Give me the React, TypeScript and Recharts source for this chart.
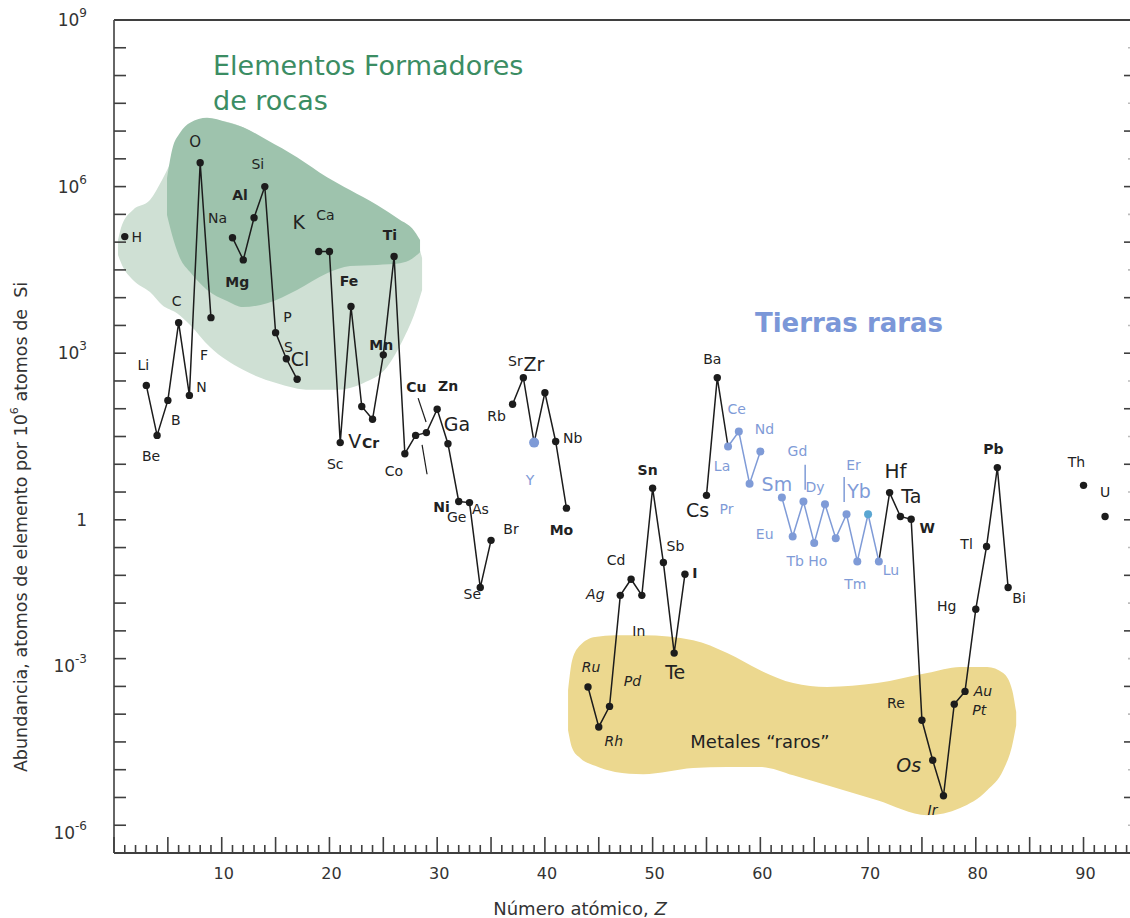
import React from 'react';
import { ComposedChart, XAxis, YAxis, Line, Area, Scatter, ReferenceLine } from 'recharts';

// Abundance of the elements in the upper crust, log10(atoms per 10^6 atoms of Si)
const elementSymbols = [
  'H', 'Li', 'Be', 'B', 'C', 'N', 'O', 'F', 'Na', 'Mg', 'Al', 'Si', 'P', 'S', 'Cl',
  'K', 'Ca', 'Sc', 'Ti', 'V', 'Cr', 'Mn', 'Fe', 'Co', 'Ni', 'Cu', 'Zn', 'Ga', 'Ge', 'As', 'Se', 'Br',
  'Rb', 'Sr', 'Y', 'Zr', 'Nb', 'Mo', 'Ru', 'Rh', 'Pd', 'Ag', 'Cd', 'In', 'Sn', 'Sb', 'Te', 'I',
  'Cs', 'Ba', 'La', 'Ce', 'Pr', 'Nd', 'Sm', 'Eu', 'Gd', 'Tb', 'Dy', 'Ho', 'Er', 'Tm', 'Yb', 'Lu',
  'Hf', 'Ta', 'W', 'Re', 'Os', 'Ir', 'Pt', 'Au', 'Hg', 'Tl', 'Pb', 'Bi', 'Th', 'U',
];
const atomicNumbers = [
  1, 3, 4, 5, 6, 7, 8, 9, 11, 12, 13, 14, 15, 16, 17,
  19, 20, 21, 22, 23, 24, 25, 26, 27, 28, 29, 30, 31, 32, 33, 34, 35,
  37, 38, 39, 40, 41, 42, 44, 45, 46, 47, 48, 49, 50, 51, 52, 53,
  55, 56, 57, 58, 59, 60, 62, 63, 64, 65, 66, 67, 68, 69, 70, 71,
  72, 73, 74, 75, 76, 77, 78, 79, 80, 81, 82, 83, 90, 92,
];
const logAbundance = [
  5.10, 2.42, 1.52, 2.15, 3.55, 2.24, 6.43, 3.64, 5.08, 4.68, 5.44, 6.00, 3.37, 2.90, 2.53,
  4.83, 4.83, 1.39, 3.84, 2.04, 1.81, 2.97, 4.74, 1.19, 1.52, 1.57, 1.99, 1.37, 0.33, 0.31, -1.22, -0.37,
  2.08, 2.56, 1.39, 2.29, 1.41, 0.21, -3.01, -3.73, -3.36, -1.36, -1.07, -1.36, 0.57, -0.77, -2.40, -0.98,
  0.44, 2.56, 1.32, 1.59, 0.65, 1.23, 0.40, -0.30, 0.33, -0.42, 0.28, -0.33, 0.10, -0.75, 0.10, -0.75,
  0.49, 0.06, 0.01, -3.61, -4.33, -4.97, -3.32, -3.09, -1.61, -0.48, 0.94, -1.22, 0.62, 0.06,
];

// connected runs (gaps where an element is missing)
const blackRuns = [
  ['Li', 'Be', 'B', 'C', 'N', 'O', 'F'],
  ['Na', 'Mg', 'Al', 'Si', 'P', 'S', 'Cl'],
  ['K', 'Ca', 'Sc', 'Ti', 'V', 'Cr', 'Mn', 'Fe', 'Co', 'Ni', 'Cu', 'Zn', 'Ga', 'Ge', 'As', 'Se', 'Br'],
  ['Rb', 'Sr', 'Y', 'Zr', 'Nb', 'Mo'],
  ['Ru', 'Rh', 'Pd', 'Ag', 'Cd', 'In', 'Sn', 'Sb', 'Te', 'I'],
  ['Cs', 'Ba', 'La'],
  ['Lu', 'Hf', 'Ta', 'W', 'Re', 'Os', 'Ir', 'Pt', 'Au', 'Hg', 'Tl', 'Pb', 'Bi'],
];
const blueRuns = [
  ['La', 'Ce', 'Pr', 'Nd'],
  ['Sm', 'Eu', 'Gd', 'Tb', 'Dy', 'Ho', 'Er', 'Tm', 'Yb', 'Lu'],
];
const rareEarths = ['Y', 'La', 'Ce', 'Pr', 'Nd', 'Sm', 'Eu', 'Gd', 'Tb', 'Dy', 'Ho', 'Er', 'Tm', 'Yb', 'Lu'];

// region outlines: atomic number, lower and upper log10 bound
const lightGreenZ = [0.37, 0.74, 1.76, 3.34, 4.46, 5.85, 7.06, 8.91, 11.98, 15.13, 18.2, 20.71, 23.12, 25.35, 26.83, 27.95, 28.6];
const lightGreenLow = [4.77, 4.59, 4.32, 4.10, 3.87, 3.72, 3.51, 3.11, 2.70, 2.46, 2.34, 2.34, 2.46, 2.75, 3.24, 3.74, 4.14];
const lightGreenHigh = [5.04, 5.31, 5.58, 5.76, 6.12, 6.66, 7.02, 7.20, 7.07, 6.66, 6.21, 5.94, 5.67, 5.43, 5.36, 5.13, 4.71];

const darkGreenZ = [4.92, 5.39, 6.13, 7.06, 8.64, 10.49, 11.98, 14.21, 16.99, 19.78, 21.91, 24.42, 26.56, 27.67, 28.41];
const darkGreenLow = [5.49, 5.13, 4.71, 4.46, 4.14, 3.94, 3.83, 3.90, 4.14, 4.44, 4.57, 4.59, 4.62, 4.70, 4.82];
const darkGreenHigh = [6.15, 6.66, 6.97, 7.15, 7.24, 7.16, 7.07, 6.84, 6.53, 6.17, 5.94, 5.67, 5.40, 5.25, 5.04];

const rareMetalsZ = [42.15, 42.53, 43.27, 44.66, 46.52, 49.12, 53.76, 56.92, 59.98, 63.05, 66.2, 70.85, 75.49, 78.55, 81.06, 82.54, 83.38, 83.75];
const rareMetalsLow = [-3.79, -4.11, -4.29, -4.43, -4.54, -4.58, -4.47, -4.45, -4.45, -4.60, -4.78, -5.05, -5.32, -5.19, -4.87, -4.51, -4.06, -3.70];
const rareMetalsHigh = [-3.07, -2.53, -2.26, -2.11, -2.08, -2.08, -2.17, -2.40, -2.71, -2.94, -3.01, -2.94, -2.76, -2.65, -2.65, -2.76, -3.07, -3.46];

// small pointer strokes next to some labels: [z1, v1, z2, v2]
const blackPointers = [
  [28.23, 2.19, 28.97, 1.76],
  [28.6, 1.35, 29.06, 0.82],
];
const bluePointers = [
  [64.16, 0.99, 64.16, 0.54],
  [67.78, 0.77, 67.78, 0.32],
];

const yTickLabels = [9, 6, 3, 0, -3, -6];

const Z_MAX = 94.5;
const INK = '#1c1c1c';
const AXIS = '#3f3f3f';
const REE = '#7f9bd7';
const GREEN_TEXT = '#3b8d63';

type LabelStyle = { dx: number; dy: number; size?: number; bold?: boolean; italic?: boolean };
const B = true;
const labelStyles: Record<string, LabelStyle> = {
  H: { dx: 12, dy: 0 }, Li: { dx: -3, dy: -20 }, Be: { dx: -6, dy: 21 }, B: { dx: 8, dy: 20 },
  C: { dx: -2, dy: -22 }, N: { dx: 12, dy: -8 }, O: { dx: -5, dy: -21, size: 15 }, F: { dx: -7, dy: 37 },
  Na: { dx: -15, dy: -20 }, Mg: { dx: -6, dy: 22, bold: B }, Al: { dx: -14, dy: -23, bold: B },
  Si: { dx: -7, dy: -23 }, P: { dx: 12, dy: -16 }, S: { dx: 2, dy: -12 }, Cl: { dx: 3, dy: -20, size: 19 },
  K: { dx: -20, dy: -30, size: 19 }, Ca: { dx: -4, dy: -37 }, Sc: { dx: -5, dy: 21 },
  Ti: { dx: 39, dy: -72, bold: B }, V: { dx: -7, dy: 34, size: 19 }, Cr: { dx: -2, dy: 24, bold: B },
  Mn: { dx: -2, dy: -10, bold: B }, Fe: { dx: -45, dy: 24, bold: B }, Co: { dx: -11, dy: 17 },
  Ni: { dx: 26, dy: 72, bold: B }, Cu: { dx: -10, dy: -46, bold: B }, Zn: { dx: 11, dy: -23, bold: B },
  Ga: { dx: 9, dy: -20, size: 19 }, Ge: { dx: -2, dy: 16 }, As: { dx: 11, dy: 6 }, Se: { dx: -8, dy: 6 },
  Br: { dx: 20, dy: -11 }, Rb: { dx: -16, dy: 12 }, Sr: { dx: -8, dy: -17 }, Y: { dx: -4, dy: 37 },
  Zr: { dx: -11, dy: -29, size: 19 }, Nb: { dx: 17, dy: -3 }, Mo: { dx: -5, dy: 22, bold: B },
  Ru: { dx: 3, dy: -20, italic: B }, Rh: { dx: 15, dy: 14, italic: B }, Pd: { dx: 23, dy: -25, italic: B },
  Ag: { dx: -25, dy: -1, italic: B }, Cd: { dx: -15, dy: -19 }, In: { dx: -3, dy: 36 },
  Sn: { dx: -5, dy: -18, bold: B }, Sb: { dx: 12, dy: -17 }, Te: { dx: 1, dy: 19, size: 19 },
  I: { dx: 10, dy: -1, bold: B }, Cs: { dx: -9, dy: 15, size: 19 }, Ba: { dx: -5, dy: -19 },
  La: { dx: -6, dy: 20 }, Ce: { dx: -2, dy: -23 }, Pr: { dx: -23, dy: 25 }, Nd: { dx: 4, dy: -22 },
  Sm: { dx: -5, dy: -14, size: 19 }, Eu: { dx: -28, dy: -2 }, Gd: { dx: -6, dy: -50 }, Tb: { dx: -19, dy: 18 },
  Dy: { dx: -10, dy: -17 }, Ho: { dx: -18, dy: 23 }, Er: { dx: 7, dy: -49 }, Tm: { dx: -2, dy: 23 },
  Yb: { dx: -9, dy: -23, size: 19 }, Lu: { dx: 12, dy: 9 }, Hf: { dx: 6, dy: -22, size: 20 },
  Ta: { dx: 11, dy: -20, size: 19 }, W: { dx: 16, dy: 9, bold: B }, Re: { dx: -26, dy: -17 },
  Os: { dx: -24, dy: 5, size: 19, italic: B }, Ir: { dx: -11, dy: 14, italic: B }, Pt: { dx: 25, dy: 6, italic: B },
  Au: { dx: 18, dy: 0, italic: B }, Hg: { dx: -29, dy: -3 }, Tl: { dx: -20, dy: -2 }, Pb: { dx: -4, dy: -19, bold: B },
  Bi: { dx: 11, dy: 10 }, Th: { dx: -7, dy: -23 }, U: { dx: 0, dy: -24 },
};

const elements = elementSymbols.map((sym, i) => ({ sym, z: atomicNumbers[i], v: logAbundance[i] }));
const bySymbol: Record<string, { sym: string; z: number; v: number }> = {};
elements.forEach(e => { bySymbol[e.sym] = e; });
const runData = (run: string[]) => run.map(s => bySymbol[s]);

const blob = (zs: number[], lo: number[], hi: number[]) => zs.map((z, i) => ({ z, lo: lo[i], hi: hi[i] }));
const lightGreen = blob(lightGreenZ, lightGreenLow, lightGreenHigh);
const darkGreen = blob(darkGreenZ, darkGreenLow, darkGreenHigh);
const rareMetals = blob(rareMetalsZ, rareMetalsLow, rareMetalsHigh);

const zTicks = Array.from({ length: 95 }, (_, i) => i);
const logTicks = Array.from({ length: 31 }, (_, i) => -6 + i * 0.5);

function BottomTick(props: any) {
  const { x, y, payload } = props;
  const z = payload.value;
  const long = z % 5 === 0;
  return (
    <g>
      <line x1={x} x2={x} y1={y} y2={y - (long ? 16 : 8)} stroke={AXIS} strokeWidth={1.6} />
      {z % 10 === 0 && z > 0 && (
        <text x={x + 2} y={y + 26} textAnchor="middle" fontSize={16} fill="#333">{z}</text>
      )}
    </g>
  );
}

function TopTick(props: any) {
  const { x, y, payload } = props;
  const long = payload.value % 5 === 0;
  return <line x1={x} x2={x} y1={y} y2={y + (long ? 16 : 8)} stroke={AXIS} strokeWidth={1.6} />;
}

function LeftTick(props: any) {
  const { x, y, payload } = props;
  const v = payload.value;
  const labelled = yTickLabels.includes(v);
  // the two lowest exponent labels sit a little above their ticks
  const nudge = v < 0 ? -20 : 0;
  return (
    <g>
      <line x1={x} x2={x + 12} y1={y} y2={y} stroke={AXIS} strokeWidth={1.6} />
      {labelled && (
        <text x={x - 27} y={y + nudge + 6} textAnchor="end" fontSize={17} fill="#333">
          {v === 0 ? '1' : (
            <>
              10<tspan dy={-9} fontSize={12}>{v}</tspan>
            </>
          )}
        </text>
      )}
    </g>
  );
}

function RightTick(props: any) {
  const { x, y, payload } = props;
  const whole = Number.isInteger(payload.value);
  return (
    <line x1={x} x2={x - (whole ? 8 : 4)} y1={y} y2={y}
      stroke={whole ? AXIS : '#bbb'} strokeWidth={1.6} />
  );
}

function ElementDot(props: any) {
  const { cx, cy, payload } = props;
  const ree = rareEarths.includes(payload.sym);
  const fill = payload.sym === 'Yb' ? '#5aa6d2' : ree ? REE : INK;
  const r = payload.sym === 'Y' ? 5 : ree ? 4 : 3.7;
  return <circle cx={cx} cy={cy} r={r} fill={fill} />;
}

function ElementLabel(props: any) {
  const { cx, cy, payload } = props;
  const s = labelStyles[payload.sym] ?? { dx: 10, dy: -10 };
  const ree = rareEarths.includes(payload.sym);
  return (
    <text
      x={cx + s.dx}
      y={cy + s.dy}
      textAnchor="middle"
      dominantBaseline="central"
      fontSize={s.size ?? 14}
      fontWeight={s.bold ? 'bold' : 'normal'}
      fontStyle={s.italic ? 'italic' : 'normal'}
      fill={ree ? REE : '#222'}
    >
      {payload.sym}
    </text>
  );
}

const rangeKey = (d: any) => [d.lo, d.hi];

export default function App() {
  return (
    <div style={{ position: 'absolute', left: 0, top: 0, width: 1130, height: 918, overflow: 'hidden', background: '#fff', fontFamily: '"DejaVu Sans", Verdana, sans-serif' }}>
      <ComposedChart width={1140} height={918} margin={{ top: 0, right: 0, bottom: 25, left: 54 }}>
        <XAxis xAxisId={0} dataKey="z" type="number" domain={[0, Z_MAX]} allowDataOverflow
          ticks={zTicks} interval={0} tick={BottomTick} tickLine={false} tickSize={0} tickMargin={0}
          height={40} axisLine={{ stroke: AXIS, strokeWidth: 2 }} />
        <XAxis xAxisId="top" orientation="top" type="number" domain={[0, Z_MAX]} allowDataOverflow
          ticks={zTicks} interval={0} tick={TopTick} tickLine={false} tickSize={0} tickMargin={0}
          height={20} axisLine={{ stroke: AXIS, strokeWidth: 2 }} />
        <YAxis yAxisId={0} dataKey="v" type="number" domain={[-6, 9]} allowDataOverflow
          ticks={logTicks} interval={0} tick={LeftTick} tickLine={false} tickSize={0} tickMargin={0}
          width={60} axisLine={{ stroke: '#666', strokeWidth: 2 }} />
        <YAxis yAxisId="right" orientation="right" type="number" domain={[-6, 9]} allowDataOverflow
          ticks={logTicks} interval={0} tick={RightTick} tickLine={false} tickSize={0} tickMargin={0}
          width={8} axisLine={false} />

        <Area data={lightGreen} dataKey={rangeKey} type="monotone" stroke="none" fill="#cfe0d4"
          fillOpacity={1} dot={false} activeDot={false} isAnimationActive={false} />
        <Area data={darkGreen} dataKey={rangeKey} type="monotone" stroke="none" fill="#9ec3ad"
          fillOpacity={1} dot={false} activeDot={false} isAnimationActive={false} />
        <Area data={rareMetals} dataKey={rangeKey} type="monotone" stroke="none" fill="#ecd88f"
          fillOpacity={1} dot={false} activeDot={false} isAnimationActive={false} />

        {blackRuns.map((run, i) => (
          <Line key={'k' + i} data={runData(run)} dataKey="v" type="linear" stroke={INK} strokeWidth={1.5}
            dot={false} activeDot={false} isAnimationActive={false} />
        ))}
        {blueRuns.map((run, i) => (
          <Line key={'b' + i} data={runData(run)} dataKey="v" type="linear" stroke={REE} strokeWidth={1.5}
            dot={false} activeDot={false} isAnimationActive={false} />
        ))}

        {blackPointers.map((p, i) => (
          <ReferenceLine key={'pk' + i} segment={[{ x: p[0], y: p[1] }, { x: p[2], y: p[3] }]}
            stroke={INK} strokeWidth={1.2} />
        ))}
        {bluePointers.map((p, i) => (
          <ReferenceLine key={'pb' + i} segment={[{ x: p[0], y: p[1] }, { x: p[2], y: p[3] }]}
            stroke={REE} strokeWidth={1.5} />
        ))}

        <Scatter data={elements} dataKey="v" shape={ElementDot} isAnimationActive={false} />
        <Scatter data={elements} dataKey="v" shape={ElementLabel} isAnimationActive={false} />
      </ComposedChart>

      <svg width={1130} height={918} style={{ position: 'absolute', left: 0, top: 0, pointerEvents: 'none' }}>
        <text x={213} y={75} fontSize={27} fill={GREEN_TEXT}>Elementos Formadores</text>
        <text x={213} y={110} fontSize={27} fill={GREEN_TEXT}>de rocas</text>
        <text x={849} y={332} textAnchor="middle" fontSize={26} fontWeight="bold" fill="#7b97d8">Tierras raras</text>
        <text x={760} y={748} textAnchor="middle" fontSize={18} fill="#222">Metales “raros”</text>
        <text x={580} y={915} textAnchor="middle" fontSize={18} fill="#333">
          Número atómico, <tspan fontStyle="italic">Z</tspan>
        </text>
        <text x={0} y={0} transform="translate(21 527) rotate(-90)" textAnchor="middle"
          dominantBaseline="central" fontSize={17.5} fill="#333" style={{ whiteSpace: 'pre' }}>
          Abundancia, atomos de elemento por 10<tspan dy={-7} fontSize={11}>6</tspan><tspan dy={7}> atomos de  Si</tspan>
        </text>
      </svg>
    </div>
  );
}
